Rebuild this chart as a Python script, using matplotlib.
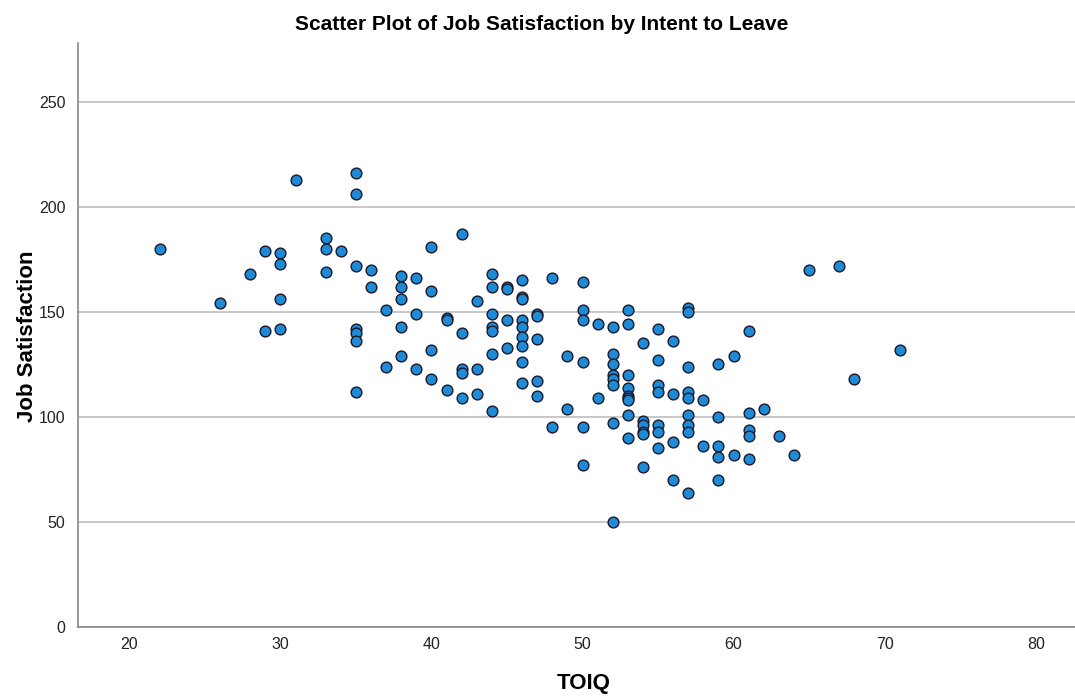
import matplotlib
matplotlib.use("Agg")
import matplotlib.pyplot as plt

# TOIQ score and matching job satisfaction score, grouped by TOIQ value
toiq_values = [22, 26, 28, 29, 29, 30, 30, 30, 30, 31,
               33, 33, 33, 34,
               35, 35, 35, 35, 35, 35, 35,
               36, 36, 37, 37,
               38, 38, 38, 38, 38,
               39, 39, 39,
               40, 40, 40, 40,
               41, 41, 41,
               42, 42, 42, 42, 42,
               43, 43, 43,
               44, 44, 44, 44, 44, 44, 44,
               45, 45, 45, 45,
               46, 46, 46, 46, 46, 46, 46, 46, 46,
               47, 47, 47, 47, 47,
               48, 48, 49, 49,
               50, 50, 50, 50, 50, 50,
               51, 51,
               52, 52, 52, 52, 52, 52, 52, 52,
               53, 53, 53, 53, 53, 53, 53, 53, 53,
               54, 54, 54, 54, 54, 54,
               55, 55, 55, 55, 55, 55, 55,
               56, 56, 56, 56,
               57, 57, 57, 57, 57, 57, 57, 57, 57,
               58, 58,
               59, 59, 59, 59, 59,
               60, 60,
               61, 61, 61, 61, 61,
               62, 63, 64, 65, 67, 68, 71]

job_satisfaction = [180, 154, 168, 179, 141, 178, 173, 156, 142, 213,
                    185, 180, 169, 179,
                    216, 206, 172, 142, 140, 136, 112,
                    170, 162, 151, 124,
                    167, 162, 156, 143, 129,
                    166, 149, 123,
                    181, 160, 132, 118,
                    147, 146, 113,
                    187, 140, 123, 121, 109,
                    155, 123, 111,
                    168, 162, 149, 143, 141, 130, 103,
                    162, 161, 146, 133,
                    165, 157, 156, 146, 143, 138, 134, 126, 116,
                    149, 148, 137, 117, 110,
                    166, 95, 129, 104,
                    164, 151, 146, 126, 95, 77,
                    144, 109,
                    143, 130, 125, 120, 118, 115, 97, 50,
                    151, 144, 120, 114, 110, 109, 108, 101, 90,
                    135, 98, 96, 93, 92, 76,
                    142, 127, 115, 112, 96, 93, 85,
                    136, 111, 88, 70,
                    152, 150, 124, 112, 109, 101, 96, 93, 64,
                    108, 86,
                    125, 100, 86, 81, 70,
                    129, 82,
                    141, 102, 94, 91, 80,
                    104, 91, 82, 170, 172, 118, 132]

x_ticks = [20, 30, 40, 50, 60, 70, 80]
y_ticks = [0, 50, 100, 150, 200, 250]

plt.rcParams["font.family"] = ["Liberation Sans", "DejaVu Sans"]

W, H = 1075, 700
fig = plt.figure(figsize=(W / 100, H / 100), dpi=100)
ax = fig.add_axes([78 / W, 1 - 627 / H, 1 - 78 / W, (627 - 43) / H])

ax.set_xlim(16.6, 82.6)
ax.set_ylim(0, 278)

ax.set_yticks(y_ticks)
ax.set_xticks(x_ticks)
ax.yaxis.grid(True, color="#c4c4c4", linewidth=1.3)
ax.set_axisbelow(True)

ax.scatter(toiq_values, job_satisfaction, s=60, facecolor="#1f8ad6",
           edgecolor="#1a1a2a", linewidth=1.0, zorder=3)

for side in ("top", "right"):
    ax.spines[side].set_visible(False)
for side in ("left", "bottom"):
    ax.spines[side].set_color("#888888")
    ax.spines[side].set_linewidth(1.2)

ax.tick_params(axis="both", length=0, labelsize=11.5, colors="#222222")
ax.tick_params(axis="x", pad=7)
ax.tick_params(axis="y", pad=9)

fig.text(542 / W, 1 - 25 / H, "Scatter Plot of Job Satisfaction by Intent to Leave",
         fontsize=15, fontweight="bold", ha="center", va="center")

ax.set_xlabel("TOIQ", fontsize=16, fontweight="bold")
ax.xaxis.set_label_coords((584 - 78) / 997, (627 - 673) / 584)
ax.set_ylabel("Job Satisfaction", fontsize=16, fontweight="bold")
ax.yaxis.set_label_coords((38 - 78) / 997, (627 - 336) / 584)

fig.savefig("out.png", dpi=100, facecolor="white")
